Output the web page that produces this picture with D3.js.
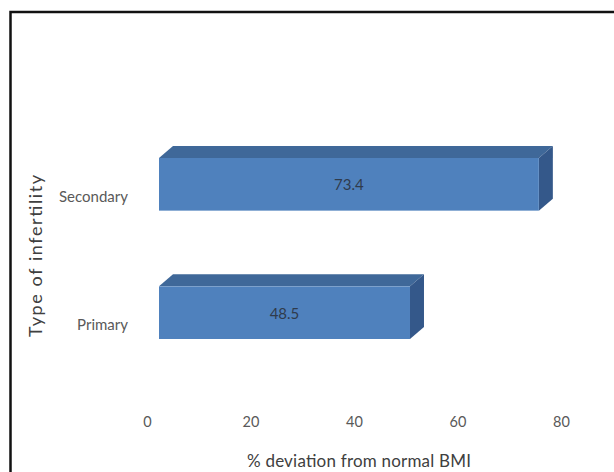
<!DOCTYPE html>
<html>
<head>
<meta charset="utf-8">
<script src="https://cdn.jsdelivr.net/npm/d3@7"></script>
<style>
  body { margin: 0; background: #fff; }
  text { font-family: Lato, "Open Sans", sans-serif; }
</style>
</head>
<body>
<svg></svg>
<script>
// data
var categories = ['Secondary', 'Primary'];
var values = [73.4, 48.5];
var xTicks = [0, 20, 40, 60, 80];

var svgWidth = 614, svgHeight = 472;
var depthX = 14, depthY = 12; // 3d offset of the bars

var svg = d3.select('svg')
.attr('width', svgWidth)
.attr('height', svgHeight);

// frame
svg.append('path')
.attr('d', 'M10.5,472 L10.5,12 L614,12')
.attr('fill', 'none')
.attr('stroke', '#111')
.attr('stroke-width', 2.5);

var xScale = d3.scaleLinear()
.domain([0, 80])
.range([159, 573]);

var yScale = d3.scaleBand()
.domain(categories)
.range([119.5, 377.5])
.paddingInner(0.59)
.paddingOuter(0.3);

var bars = svg.selectAll('g.bar')
.data(values)
.enter()
.append('g')
.attr('class', 'bar');

// top face
bars.append('path')
.attr('d', function(d, i){
    var x0 = xScale(0), x1 = xScale(d), y0 = yScale(categories[i]);
    return 'M' + x0 + ',' + y0 + ' L' + (x0 + depthX) + ',' + (y0 - depthY) +
        ' L' + (x1 + depthX) + ',' + (y0 - depthY) + ' L' + x1 + ',' + y0 + 'Z';
})
.attr('fill', '#3f6899');

// side face
bars.append('path')
.attr('d', function(d, i){
    var x1 = xScale(d), y0 = yScale(categories[i]), y1 = y0 + yScale.bandwidth();
    return 'M' + x1 + ',' + y0 + ' L' + (x1 + depthX) + ',' + (y0 - depthY) +
        ' L' + (x1 + depthX) + ',' + (y1 - depthY) + ' L' + x1 + ',' + y1 + 'Z';
})
.attr('fill', '#34588a');

// front face
bars.append('rect')
.attr('x', xScale(0))
.attr('y', function(d, i){ return yScale(categories[i]); })
.attr('width', function(d){ return xScale(d) - xScale(0); })
.attr('height', yScale.bandwidth())
.attr('fill', '#4f81bd');

// value labels
bars.append('text')
.attr('x', function(d){ return (xScale(0) + xScale(d)) / 2; })
.attr('y', function(d, i){ return yScale(categories[i]) + yScale.bandwidth() / 2 + 6; })
.attr('text-anchor', 'middle')
.attr('font-size', 15)
.attr('fill', '#2f3b4c')
.text(function(d){ return d; });

// x axis (labels sit on the back wall, shifted left)
var x_axis = d3.axisBottom()
.scale(xScale)
.tickValues(xTicks)
.tickSize(0)
.tickPadding(0);

var gx = svg.append('g')
.attr('transform', 'translate(-12, 417)')
.call(x_axis);
gx.select('.domain').remove();
gx.selectAll('text')
.attr('font-size', 14.5)
.attr('fill', '#595959')
.style('font-family', 'Lato, "Open Sans", sans-serif');

// y axis
var y_axis = d3.axisLeft()
.scale(yScale)
.tickSize(0)
.tickPadding(0);

var gy = svg.append('g')
.attr('transform', 'translate(128, 13)')
.call(y_axis);
gy.select('.domain').remove();
gy.selectAll('text')
.attr('font-size', 15)
.attr('fill', '#595959')
.style('font-family', 'Lato, "Open Sans", sans-serif');

// axis titles
svg.append('text')
.attr('x', 359)
.attr('y', 467)
.attr('text-anchor', 'middle')
.attr('font-size', 17)
.attr('textLength', 224)
.attr('fill', '#404040')
.text('% deviation from normal BMI');

svg.append('text')
.attr('transform', 'translate(42, 256) rotate(-90)')
.attr('text-anchor', 'middle')
.attr('font-size', 18)
.attr('textLength', 162)
.attr('fill', '#404040')
.text('Type of infertility');
</script>
</body>
</html>
